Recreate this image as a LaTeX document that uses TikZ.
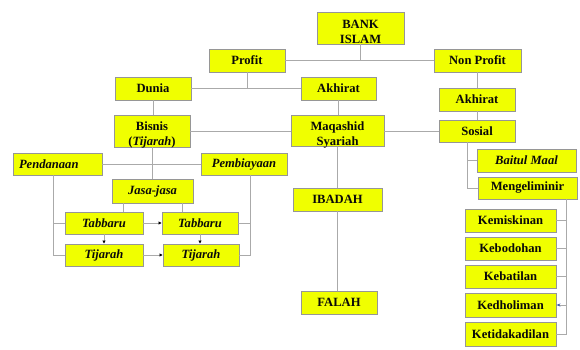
\documentclass[tikz,border=0pt]{standalone}
\usepackage{fontspec}
\setmainfont{Liberation Serif}
\usetikzlibrary{arrows.meta}
\definecolor{boxyel}{RGB}{240,255,0}
\definecolor{boxline}{RGB}{150,150,150}
\definecolor{conn}{RGB}{170,170,170}
\definecolor{txt}{RGB}{10,10,10}
\definecolor{bluetip}{RGB}{60,90,170}
\tikzset{
  bx/.style={draw=boxline, line width=0.9pt, fill=boxyel, inner sep=0pt,
    text=txt, font=\fontsize{12.6}{14.5}\selectfont\bfseries, align=center},
  lbl/.style={inner sep=0pt, text=txt, font=\fontsize{12.6}{15}\selectfont\bfseries, align=center},
  cn/.style={draw=conn, line width=0.8pt},
  arr/.style={cn, -{Triangle[length=3pt,width=3pt,color=black]}},
}
\newcommand\bx[6][]{%
  \node[bx, minimum width={(#5-#3)*1pt}, minimum height={(#6-#4)*1pt}, #1]
    (#2) at ({(#3+#5)/2},{(#4+#6)/2}) {\bxtext};}
\newcommand\bxtwo[7]{%
  \node[bx, minimum width={(#5-#3)*1pt}, minimum height={(#6-#4)*1pt}]
    (#1) at ({(#2+#4)/2},{(#3+#5)/2}) {};
  \node[lbl, yshift=-3.5pt] (#1-t) at (#1.center) {#6\\#7};}
\begin{document}
\begin{tikzpicture}[x=1pt,y=-1pt]
\useasboundingbox (0,0) rectangle (580,350);
% boxes
\node[bx, minimum width=87pt, minimum height=32pt] (bank) at (360.5,28) {};
\node[lbl, yshift=-3.5pt] (bank-t) at (bank.center) {BANK\\ISLAM};
\def\bxtext{Profit}\bx{profit}{209}{49}{285}{72}
\def\bxtext{Non Profit}\bx{nonprofit}{434}{49}{521}{72}
\def\bxtext{Dunia}\bx{dunia}{115}{77}{191}{100}
\def\bxtext{Akhirat}\bx{akh1}{301}{77}{376}{100}
\def\bxtext{Akhirat}\bx{akh2}{439}{88}{515}{111}
\node[bx, minimum width=76pt, minimum height=32pt] (bisnis) at (152,131) {};
\node[lbl, yshift=-3.5pt] (bisnis-t) at (bisnis.center) {Bisnis\\(\textit{Tijarah})};
\node[bx, minimum width=93pt, minimum height=31pt] (maqashid) at (337.5,131) {};
\node[lbl, yshift=-3.5pt] (maqashid-t) at (maqashid.center) {Maqashid\\Syariah};
\def\bxtext{Sosial}\bx{sosial}{439}{120}{515}{142}
\def\bxtext{\itshape Baitul Maal}\bx{baitul}{477}{149}{576}{172}
\def\bxtext{Mengeliminir}\bx{mengel}{478}{177}{577}{199}
\def\bxtext{\itshape Pendanaan}\bx[text width=77pt, align=left]{pendanaan}{13}{153}{102}{175}
\def\bxtext{\itshape Pembiayaan}\bx{pembiayaan}{201}{153}{287}{175}
\def\bxtext{\itshape Jasa-jasa}\bx{jasa}{112}{179}{193}{203}
\def\bxtext{\itshape Tabbaru}\bx{tab1}{65}{212}{143}{234}
\def\bxtext{\itshape Tabbaru}\bx{tab2}{162}{212}{238}{234}
\def\bxtext{\itshape Tijarah}\bx{tij1}{65}{244}{143}{266}
\def\bxtext{\itshape Tijarah}\bx{tij2}{163}{244}{239}{266}
\def\bxtext{IBADAH}\bx{ibadah}{293}{188}{382}{211}
\def\bxtext{FALAH}\bx{falah}{301}{291}{377}{314}
\def\bxtext{Kemiskinan}\bx{kemiskinan}{465}{209}{556}{232}
\def\bxtext{Kebodohan}\bx{kebodohan}{465}{237}{556}{260}
\def\bxtext{Kebatilan}\bx{kebatilan}{465}{265}{556}{288}
\def\bxtext{Kedholiman}\bx{kedholiman}{465}{293}{556}{317}
\def\bxtext{Ketidakadilan}\bx{ketidakadilan}{465}{322}{556}{346}
% connectors
\draw[cn] (bank.south) -- (bank.south |- profit.east);
\draw[cn] (profit.east) -- (nonprofit.west);
\draw[cn] (profit.south) -- (profit.south |- dunia.east);
\draw[cn] (dunia.east) -- (akh1.west);
\draw[cn] (dunia.south) -- (dunia.south |- bisnis.north);
\draw[cn] (akh1.south) -- (akh1.south |- maqashid.north);
\draw[cn] (nonprofit.south) -- (nonprofit.south |- akh2.north);
\draw[cn] (akh2.south) -- (akh2.south |- sosial.north);
\draw[cn] (bisnis.east) -- (maqashid.west);
\draw[cn] (maqashid.east) -- (sosial.west);
\draw[cn] ([xshift=-10pt]sosial.south) |- (baitul.west);
\draw[cn] ([xshift=-10pt]sosial.south) |- (mengel.west);
\draw[cn] ([xshift=38.5pt]mengel.south) |- (kemiskinan.east);
\draw[cn] ([xshift=38.5pt]mengel.south) |- (kebodohan.east);
\draw[cn] ([xshift=38.5pt]mengel.south) |- (kebatilan.east);
\draw[cn] ([xshift=38.5pt]mengel.south) |- (ketidakadilan.east);
\draw[cn, -{Stealth[length=4pt,width=3pt,color=bluetip]}] ([xshift=38.5pt]mengel.south |- kedholiman.east) -- (kedholiman.east);
\draw[cn] (maqashid.south) -- (maqashid.south |- ibadah.north);
\draw[cn] (ibadah.south) -- (ibadah.south |- falah.north);
\draw[cn] (bisnis.south) -- (bisnis.south |- jasa.north);
\draw[cn] (pendanaan.east) -- (pembiayaan.west);
\draw[cn] ([xshift=-4.5pt]pendanaan.south) |- (tab1.west);
\draw[cn] ([xshift=-4.5pt]pendanaan.south) |- (tij1.west);
\draw[cn] ([xshift=6pt]pembiayaan.south) |- (tab2.east);
\draw[cn] ([xshift=6pt]pembiayaan.south) |- (tij2.east);
\draw[cn] ([xshift=-29.5pt]jasa.south) -- ([xshift=-29.5pt]jasa.south |- tab1.north);
\draw[cn] ([xshift=29.5pt]jasa.south) -- ([xshift=29.5pt]jasa.south |- tab2.north);
\draw[arr] (tab1.east) -- (tab2.west);
\draw[arr] (tij1.east) -- (tij2.west);
\draw[arr] (tab1.south) -- (tij1.north);
\draw[arr] (tab2.south) -- (tab2.south |- tij2.north);
\end{tikzpicture}
\end{document}
